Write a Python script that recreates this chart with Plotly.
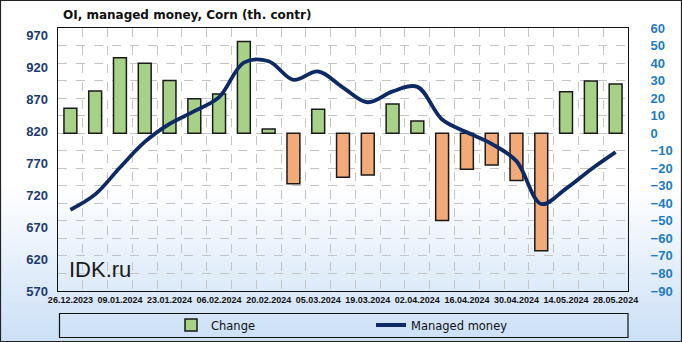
import plotly.graph_objects as go

# ---- data ----
dates = ["26.12.2023", "02.01.2024", "09.01.2024", "16.01.2024", "23.01.2024",
         "30.01.2024", "06.02.2024", "13.02.2024", "20.02.2024", "27.02.2024",
         "05.03.2024", "12.03.2024", "19.03.2024", "26.03.2024", "02.04.2024",
         "09.04.2024", "16.04.2024", "23.04.2024", "30.04.2024", "07.05.2024",
         "14.05.2024", "21.05.2024", "28.05.2024"]
change = [14.3, 24.1, 43.1, 39.9, 30.0, 19.6, 22.4, 52.3, 2.4, -28.9, 13.7, -25.1,
          -23.8, 16.7, 7.0, -49.8, -20.6, -18.1, -27.0, -67.0, 23.6, 29.8, 28.0]
managed_money = [697, 721, 763, 803, 831, 851, 873, 927, 929, 900, 913, 888,
                 865, 882, 889, 838, 818, 800, 773, 706, 730, 760, 787]
left_ticks = [570, 620, 670, 720, 770, 820, 870, 920, 970]

W, H = 682, 342
L, R, T, B = 58, 54, 28, 51
PW, PH = W - L - R, H - T - B

def px(x):
    return (x - L) / PW

def py(y):
    return (H - B - y) / PH

xs = list(range(len(dates)))
bar_colors = ["#a6d186" if v >= 0 else "#f1aa78" for v in change]

fig = go.Figure()
fig.add_trace(go.Bar(
    x=xs, y=change, name="Change", xaxis="x", yaxis="y",
    marker=dict(color=bar_colors, line=dict(color="#1a1a1a", width=1.5)),
    width=0.52, legend="legend", showlegend=True,
))
fig.add_trace(go.Scatter(
    x=xs, y=managed_money, name="Managed money", xaxis="x2", yaxis="y2",
    mode="lines", line=dict(color="#0d2a66", width=3.8, shape="spline", smoothing=1),
    legend="legend2", showlegend=True,
))

# background gradient strips (white -> light blue)
shapes = []
g0, g1 = 185, H
n = 30
c0 = (255, 255, 255)
c1 = (203, 223, 246)
for i in range(n):
    t = (i + 0.5) / n
    col = tuple(round(c0[k] + (c1[k] - c0[k]) * t) for k in range(3))
    ya = g0 + (g1 - g0) * i / n
    yb = g0 + (g1 - g0) * (i + 1) / n + 0.6
    shapes.append(dict(type="rect", xref="paper", yref="paper", layer="below",
                       x0=px(0), x1=px(W), y0=py(ya), y1=py(yb),
                       fillcolor="rgb(%d,%d,%d)" % col, line=dict(width=0)))
# legend box
shapes.append(dict(type="rect", xref="paper", yref="paper", layer="above",
                   x0=px(59.5), x1=px(628), y0=py(313.5), y1=py(337.5),
                   line=dict(color="#111111", width=1.2), fillcolor="rgba(0,0,0,0)"))
# outer border
shapes.append(dict(type="rect", xref="paper", yref="paper", layer="above",
                   x0=px(0.5), x1=px(W - 0.5), y0=py(0.5), y1=py(H - 0.5),
                   line=dict(color="#222222", width=1.2), fillcolor="rgba(0,0,0,0)"))

grid = dict(showgrid=True, gridcolor="#c4c4c4", griddash="dash", gridwidth=1)
legfont = dict(family="DejaVu Sans", size=11.5, color="#111111")

fig.update_layout(
    width=W, height=H,
    margin=dict(l=L, r=R, t=T, b=B, pad=0, autoexpand=False),
    paper_bgcolor="white", plot_bgcolor="white",
    showlegend=True,
    shapes=shapes,
    title=dict(text="<b>OI, managed money, Corn (th. contr)</b>", xref="container",
               yref="container", x=63 / W, xanchor="left", y=1 - 15 / H, yanchor="middle",
               font=dict(family="DejaVu Sans", size=12, color="#111111")),
    xaxis=dict(range=[-0.5, len(dates) - 0.5], tickvals=[v + 0.5 for v in xs[:-1]],
               showticklabels=False, ticks="", zeroline=False,
               showline=True, linecolor="#111111", linewidth=1, mirror=True, **grid),
    xaxis2=dict(range=[-0.5, len(dates) - 0.5], overlaying="x", side="bottom",
                tickvals=xs[::2], ticktext=dates[::2], showgrid=False, zeroline=False,
                ticks="", ticklabelstandoff=2,
                tickfont=dict(family="Liberation Sans", size=9, color="#111111", weight="bold")),
    yaxis=dict(range=[-90, 60], dtick=10, tick0=0, side="right", zeroline=False,
               showline=True, linecolor="#111111", linewidth=1, mirror=True,
               ticks="", ticklabelstandoff=19,
               tickfont=dict(family="Liberation Sans", size=13, color="#1e7bc6", weight="bold"),
               **grid),
    yaxis2=dict(range=[570, 981], tickvals=left_ticks, overlaying="y", side="left",
                showgrid=False, zeroline=False, ticks="", ticklabelstandoff=9,
                tickfont=dict(family="Liberation Sans", size=13, color="#1b3b72", weight="bold")),
    legend=dict(orientation="h", x=171 / W, y=1 - 325 / H, xanchor="left", yanchor="middle",
                xref="container", yref="container", visible=True,
                bgcolor="rgba(0,0,0,0)", borderwidth=0, font=legfont),
    legend2=dict(orientation="h", x=371 / W, y=1 - 325 / H, xanchor="left", yanchor="middle",
                 xref="container", yref="container", visible=True,
                 bgcolor="rgba(0,0,0,0)", borderwidth=0, font=legfont),
    annotations=[dict(text="IDK.ru", xref="paper", yref="paper", x=px(67), y=py(269),
                      xanchor="left", yanchor="middle", showarrow=False,
                      font=dict(family="Liberation Sans", size=22, color="#1a1a1a"))],
)

fig.write_html("out.html")
